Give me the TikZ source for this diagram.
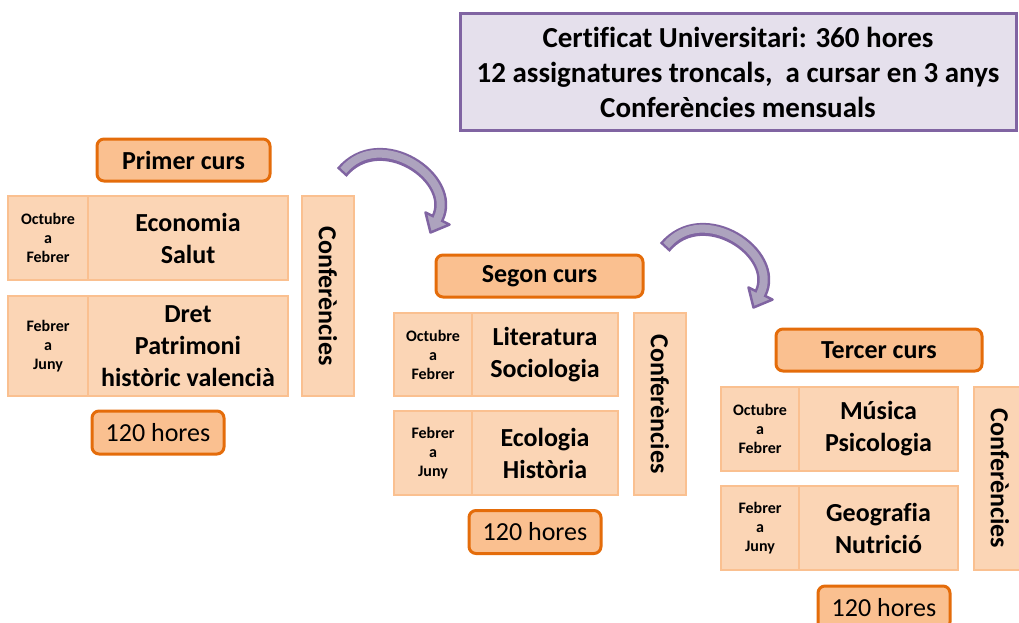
\documentclass[tikz,border=0pt]{standalone}
\usepackage{fontspec}
\setmainfont{Carlito}[Ligatures=CommonOff]

\definecolor{lila}{HTML}{E5E0EC}
\definecolor{violeta}{HTML}{8064A2}
\definecolor{fletxafons}{HTML}{ADA3BE}
\definecolor{taronja}{HTML}{FAC090}
\definecolor{taronjafosc}{HTML}{E46C0A}
\definecolor{pressec}{HTML}{FBD5B5}

\tikzset{
	infobox/.style={draw=violeta, fill=lila, line width=3, minimum width=556, minimum height=117,
		align=center, font=\fontsize{29}{35}\selectfont\bfseries},
	cursbox/.style={draw=taronjafosc, fill=taronja, line width=3, rounded corners=7,
		minimum height=42, font=\fontsize{26}{32}\selectfont\bfseries},
	horesbox/.style={cursbox, minimum width=132, minimum height=43, font=\fontsize{26}{32}\selectfont},
	cella/.style={draw=taronja, fill=pressec, line width=2.5, outer sep=0, inner sep=2, align=center},
	periode/.style={cella, minimum width=80, font=\fontsize{16}{19}\selectfont\bfseries},
	assig/.style={cella, font=\fontsize{26}{32}\selectfont\bfseries},
	confbox/.style={cella, rotate=-90, minimum height=52, font=\fontsize{26}{32}\selectfont\bfseries},
	fletxa/.pic={
		\draw[violeta, line width=13] (0,0) .. controls (38.4,-46.2) and (115.9,5.8) .. (95.8,46);
		\draw[violeta, fill=fletxafons, line width=2.5, line join=round] (83.8,39.9) -- (88.8,60) -- (107.8,52.1) -- cycle;
		\draw[fletxafons, line width=8, shorten <=2.5] (0,0) .. controls (38.4,-46.2) and (115.9,5.8) .. (95.8,46) -- ++(-1.3,2.7);
	}
}

\begin{document}
\begin{tikzpicture}[x=1pt, y=-1pt]
	\useasboundingbox (0,0) rectangle (1019,623);
	\clip (0,0) rectangle (1019,623);

	\node[infobox] (certificat) at (738,72) {Certificat Universitari: 360 hores\\12 assignatures troncals,\ \ a cursar en 3 anys\\Conferències mensuals};

	% primer curs
	\node[cursbox, minimum width=173] (curs1) at (183.5,160) {Primer curs};
	\node[periode, minimum height=84] (p1a) at (48,238) {Octubre\\a\\Febrer};
	\node[assig, minimum width=200, minimum height=84] (s1a) at (188,238) {Economia\\Salut};
	\node[periode, minimum height=100] (p1b) at (48,346) {Febrer\\a\\Juny};
	\node[assig, minimum width=200, minimum height=100] (s1b) at (188,346) {Dret\\Patrimoni\\històric valencià};
	\node[confbox, minimum width=200] (conf1) at (328,296) {Conferències};
	\node[horesbox] (hores1) at (158,432.5) {120 hores};

	% segon curs
	\node[cursbox, minimum width=207] (curs2) at (539.5,276) {Segon curs};
	\node[periode, minimum width=78, minimum height=83] (p2a) at (433,354.5) {Octubre\\a\\Febrer};
	\node[assig, minimum width=146, minimum height=83] (s2a) at (545,354.5) {Literatura\\Sociologia};
	\node[periode, minimum width=78, minimum height=84] (p2b) at (433,453) {Febrer\\a\\Juny};
	\node[assig, minimum width=146, minimum height=84] (s2b) at (545,453) {Ecologia\\Història};
	\node[confbox, minimum width=182] (conf2) at (660,404) {Conferències};
	\node[horesbox] (hores2) at (535,532) {120 hores};

	% tercer curs
	\node[cursbox, minimum width=206] (curs3) at (879,350) {Tercer curs};
	\node[periode, minimum width=78, minimum height=84] (p3a) at (760,429) {Octubre\\a\\Febrer};
	\node[assig, minimum width=159, minimum height=84] (s3a) at (878.5,429) {Música\\Psicologia};
	\node[periode, minimum width=78, minimum height=84] (p3b) at (760,528) {Febrer\\a\\Juny};
	\node[assig, minimum width=159, minimum height=84] (s3b) at (878.5,528) {Geografia\\Nutrició};
	\node[confbox, minimum width=183] (conf3) at (1000,478.5) {Conferències};
	\node[horesbox] (hores3) at (884,607.5) {120 hores};

	% fletxes
	\coordinate (f1) at (341.7,172.5);
	\coordinate (f2) at (664.7,247.5);
	\pic at (f1) {fletxa};
	\pic at (f2) {fletxa};
\end{tikzpicture}
\end{document}
